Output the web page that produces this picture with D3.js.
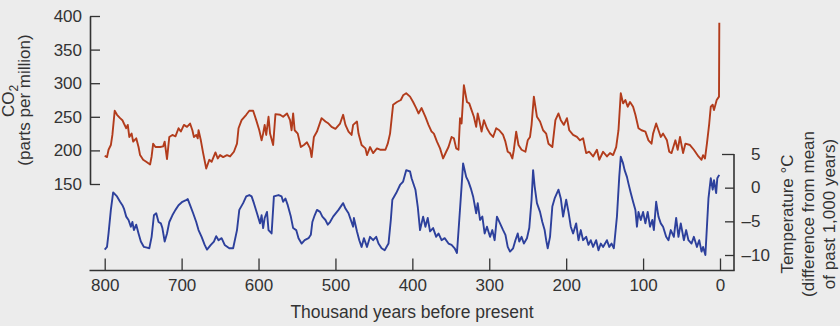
<!DOCTYPE html>
<html>
<head>
<meta charset="utf-8">
<script src="https://cdn.jsdelivr.net/npm/d3@7/dist/d3.min.js"></script>
<style>
  html, body { margin: 0; padding: 0; background: #ececec; }
  svg { display: block; }
  text { font-family: "Liberation Sans", Arial, Helvetica, sans-serif; fill: #333; }
</style>
</head>
<body>
<svg id="chart" width="840" height="326"></svg>
<script>
// ---- data (thousand years before present) ----
const co2Age = [800,797,795,792,790,787,784,780,777,775,772,770,768,765,763,759,756,754,750,746,741,739,737,734,728,724,722,719,716,712,708,704,701,697,693,689,686,684,681,679,678,675,672,668,664,661,656,653,650,646,641,637,632,628,626,622,616,612,607,603,599,596,594,592,590,587,585,581,578,572,568,563,559,557,555,553,549,545,541,537,533,531,528,524,518,513,509,505,500,494,490,487,483,479,477,472,470,466,461,459,455,451,446,442,435,432,429,425,420,415,412,408,403,399,395,392,388,383,379,375,372,368,364,360,356,353,349,346,343,340,338,336,333,329,326,323,320,317,315,313,310,307,303,299,295,291,287,282,279,276,273,270,268,265,262,258,253,250,247,245,242,238,234,230,226,223,218,214,210,207,203,199,196,191,186,182,178,174,170,165,160,157,152,147,143,139,135,132,129,126,123,120,117,113,110,106,102,97,93,89,87,83,80,77,74,69,66,63,58,55,52,48,45,39,34,28,24,22,19.5,17,14,12,9.5,7.8,4.3,1.3,0.9];
const co2Ppm = [192,190,201,208,223,259,253,248,245,240,233,238,220,225,213,218,205,193,186,183,179,191,210,205,205,206,213,187,220,223,221,233,228,238,235,240,230,220,223,218,230,215,196,173,186,183,197,188,193,190,193,191,198,210,233,245,253,259,259,245,230,215,225,238,223,250,225,208,254,253,250,255,245,230,255,230,225,205,208,212,203,190,220,228,248,243,240,235,232,240,253,238,228,223,238,243,225,208,203,193,205,196,203,201,201,210,225,268,272,275,282,285,280,272,263,255,263,250,238,228,225,213,203,188,198,205,220,218,203,201,248,240,297,272,270,260,250,235,255,245,228,245,233,225,220,233,230,223,213,198,196,188,201,228,208,201,198,215,220,238,280,250,243,230,225,210,205,245,255,245,238,248,230,223,220,215,218,196,198,191,201,186,198,191,196,193,205,230,285,270,275,265,272,265,253,233,230,228,215,210,225,240,230,220,225,215,198,196,215,201,220,196,210,208,201,191,186,193,188,210,240,265,268,260,275,280,390];

const tempAge = [800,797,795,792,789,784,780,777,775,772,769,766,764,762,759,756,753,749,745,742,739,736,733,730,727,725,722,719,716,712,708,704,699,695,692,689,685,681,678,674,670,667,662,658,655,652,648,644,638,633,628,625,620,616,612,609,606,602,598,596,594,592,589,587,583,580,574,570,568,565,562,558,555,551,548,544,540,535,532,530,527,524,520,517,513,510,507,503,496,490,487,483,480,477,476,472,469,466,463,459,455,451,447,444,440,436,431,428,426,421,416,412,408,403,401,396,393,390,386,383,380,377,373,369,366,362,358,353,349,345,342,339,336,334,330,327,324,321,317,315,312,309,306,303,299,296,293,290,286,282,279,276,273,269,266,263,261,258,255,251,248,245,243,241,238,234,231,228,226,224,221,218,215,210,207,204,200,197,194,191,187,184,181,178,174,171,168,165,161,158,155,152,147,144,141,138,134,131,129,126,124,121,119,116,113,110,108,106,103,100,97,94,91,88,86,83,80,77,74,70,67,64,60,57,54,51,47,44,41,37,34,30,27,24,22,19,17,15,12,9.5,7.8,5,3.5,1];
const tempC = [-9.2,-8.8,-6.8,-3.3,-0.7,-1.3,-2.1,-2.6,-3.1,-4.3,-4.8,-5.8,-5.1,-6.3,-5.5,-6.8,-8.0,-8.8,-8.9,-9.0,-7.3,-4.1,-3.8,-5.1,-5.3,-6.0,-8.0,-6.8,-5.1,-4.1,-3.3,-2.6,-2.1,-1.9,-1.7,-2.6,-3.8,-5.1,-6.3,-7.3,-8.5,-9.2,-8.5,-8.0,-7.2,-7.8,-7.5,-8.5,-9.0,-9.0,-6.3,-3.3,-2.3,-1.3,-1.1,-1.3,-2.3,-3.8,-5.3,-4.1,-6.0,-4.5,-3.6,-6.3,-6.8,-1.3,-1.1,-1.3,-2.1,-1.6,-2.6,-4.3,-6.0,-6.3,-7.5,-8.3,-7.8,-7.5,-7.0,-5.1,-4.1,-3.3,-3.6,-4.3,-4.8,-5.5,-5.1,-4.3,-3.3,-2.3,-3.1,-3.8,-4.8,-5.8,-4.5,-6.5,-7.8,-8.8,-7.5,-8.8,-7.3,-7.8,-7.3,-8.3,-9.0,-9.3,-8.3,-4.8,-1.8,-0.8,0.4,0.9,2.6,2.4,1.4,-0.3,-2.8,-6.3,-4.3,-5.8,-4.5,-6.5,-6.0,-7.3,-6.8,-7.8,-7.5,-8.3,-8.5,-9.0,-9.7,-4.8,0.2,3.6,1.6,0.9,-0.1,-1.3,-3.8,-2.3,-4.8,-4.3,-6.8,-5.8,-7.3,-6.3,-7.8,-4.3,-5.3,-6.3,-7.0,-8.8,-9.5,-9.0,-7.8,-6.8,-8.0,-7.3,-8.3,-7.5,-6.0,-1.8,2.6,0.2,-2.3,-3.6,-5.1,-6.3,-7.8,-9.0,-7.3,-2.8,-1.6,-0.3,-1.6,-4.3,-1.8,-3.6,-5.8,-6.8,-5.3,-7.8,-6.3,-7.8,-7.3,-8.5,-7.8,-8.8,-7.8,-9.3,-8.3,-8.8,-7.8,-8.8,-8.3,-9.0,-4.3,1.6,4.6,3.6,2.6,1.6,0.6,-0.8,-2.1,-3.3,-5.8,-3.6,-4.8,-3.6,-5.3,-3.6,-5.8,-4.8,-6.3,-2.1,-4.3,-5.3,-5.8,-7.3,-7.8,-6.3,-7.3,-4.5,-7.3,-5.3,-7.8,-6.3,-7.8,-8.3,-7.3,-8.8,-7.8,-9.5,-8.8,-10.0,-5.8,-1.6,1.4,-0.3,1.1,-0.8,1.4,1.9];

const xTicks = [800,700,600,500,400,300,200,100,0];
const co2Ticks = [150,200,250,300,350,400];
const tempTicks = [5,0,-5,-10];

// ---- drawing ----
const svg = d3.select("#chart");
const FS = 17;
svg.append("rect").attr("width",840).attr("height",326).attr("fill","#ececec");

const x = d3.scaleLinear().domain([800,0]).range([104.7,720]);
const yCO2 = d3.scaleLinear().domain([150,400]).range([184,16]);
const yT = d3.scaleLinear().domain([-10,5]).range([255,154]);

const axisColor = "#333";
const leftX = 90, rightX = 734, bottomY = 270.5;

// bottom axis
const gx = svg.append("g").attr("transform",`translate(0,${bottomY})`)
  .call(d3.axisBottom(x).tickValues(xTicks).tickSize(-12).tickPadding(8).tickFormat(d3.format("d")));
gx.select(".domain").remove();
gx.selectAll(".tick line").attr("stroke",axisColor).attr("stroke-width",1.3);
gx.selectAll(".tick text").attr("font-size",FS).attr("fill","#333");
svg.append("line").attr("x1",leftX-0.5).attr("x2",rightX+0.7).attr("y1",bottomY).attr("y2",bottomY)
  .attr("stroke",axisColor).attr("stroke-width",1.6);

// left axis (CO2)
const gl = svg.append("g").attr("transform",`translate(${leftX},0)`)
  .call(d3.axisLeft(yCO2).tickValues(co2Ticks).tickSize(-10).tickSizeOuter(0).tickPadding(8));
gl.select(".domain").attr("stroke",axisColor).attr("stroke-width",1.6);
gl.selectAll(".tick line").attr("stroke",axisColor).attr("stroke-width",1.3);
gl.selectAll(".tick text").attr("font-size",FS).attr("fill","#333");

// right axis (temperature)
svg.append("line").attr("x1",rightX).attr("x2",rightX).attr("y1",yT(5)).attr("y2",bottomY)
  .attr("stroke",axisColor).attr("stroke-width",1.6);
const gr = svg.append("g").attr("transform",`translate(${rightX},0)`)
  .call(d3.axisRight(yT).tickValues(tempTicks).tickSize(-9).tickSizeOuter(0).tickFormat(""));
gr.select(".domain").remove();
gr.selectAll(".tick line").attr("stroke",axisColor).attr("stroke-width",1.3)
  .attr("x2", d => d === 5 ? -12 : -9);
const tl = svg.append("g");
tempTicks.forEach(v => {
  tl.append("text").attr("x",751).attr("y",yT(v)).attr("dy","0.34em")
    .attr("text-anchor","start").attr("font-size",FS).text(Math.abs(v));
  if (v < 0) tl.append("text").attr("x",751).attr("y",yT(v)).attr("dy","0.34em")
    .attr("text-anchor","end").attr("font-size",FS).text("\u2013");
});

// lines
const co2Line = d3.line().x((d,i)=>x(co2Age[i])).y((d,i)=>yCO2(co2Ppm[i]));
svg.append("path").attr("d",co2Line(co2Age)).attr("fill","none")
  .attr("stroke","#b23c1c").attr("stroke-width",1.9).attr("stroke-linejoin","round");
const tLine = d3.line().x((d,i)=>x(tempAge[i])).y((d,i)=>yT(tempC[i]));
svg.append("path").attr("d",tLine(tempAge)).attr("fill","none")
  .attr("stroke","#2d409c").attr("stroke-width",1.9).attr("stroke-linejoin","round");

// axis titles
const lt = svg.append("g");
const co2t = lt.append("text").attr("transform","translate(13.5,101) rotate(-90)")
  .attr("text-anchor","middle").attr("font-size",FS);
co2t.append("tspan").text("CO");
co2t.append("tspan").attr("font-size",12).attr("dy",4).text("2");
lt.append("text").attr("transform","translate(29.5,100) rotate(-90)")
  .attr("text-anchor","middle").attr("font-size",FS).text("(parts per million)");

const rtLines = ["Temperature \u00B0C","(difference from mean","of past 1,000 years)"];
rtLines.forEach((s,i) => {
  svg.append("text").attr("transform",`translate(${793 + i*20.8},214) rotate(-90)`)
    .attr("text-anchor","middle").attr("font-size",FS).text(s);
});

svg.append("text").attr("x",412).attr("y",318).attr("text-anchor","middle")
  .attr("font-size",17.5).text("Thousand years before present");
</script>
</body>
</html>
